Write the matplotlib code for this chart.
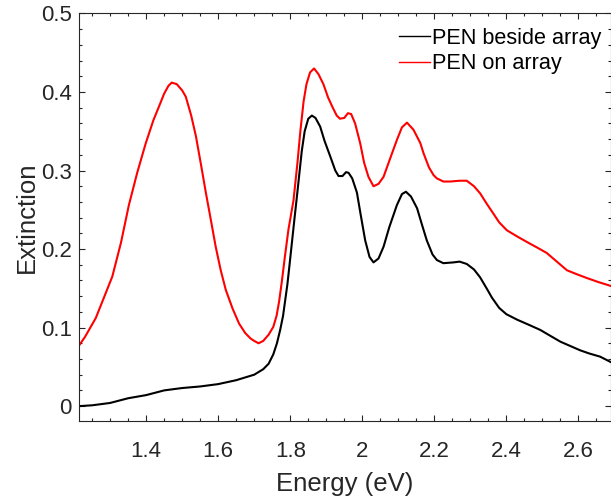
import matplotlib
matplotlib.use("Agg")
import matplotlib.pyplot as plt
from matplotlib.ticker import MultipleLocator, FuncFormatter

# ---- data ----
energy_beside = [1.215, 1.25, 1.30, 1.35, 1.40, 1.45, 1.50, 1.55, 1.60, 1.65, 1.70, 1.725,
                 1.74, 1.753, 1.763, 1.772, 1.780, 1.786, 1.792, 1.798, 1.805, 1.812, 1.818,
                 1.825, 1.832, 1.840, 1.850, 1.860, 1.870, 1.883, 1.895, 1.911, 1.925, 1.934,
                 1.945, 1.955, 1.962, 1.972, 1.985, 1.995, 2.008, 2.020, 2.031, 2.045, 2.059,
                 2.075, 2.096, 2.110, 2.121, 2.135, 2.152, 2.165, 2.179, 2.195, 2.207, 2.225,
                 2.253, 2.27, 2.29, 2.31, 2.327, 2.345, 2.36, 2.38, 2.40, 2.43, 2.46, 2.494,
                 2.52, 2.55, 2.58, 2.605, 2.63, 2.66, 2.69]
ext_beside = [0.000, 0.001, 0.004, 0.010, 0.014, 0.020, 0.023, 0.025, 0.028, 0.033, 0.040, 0.047,
              0.054, 0.066, 0.080, 0.097, 0.115, 0.135, 0.155, 0.180, 0.210, 0.240, 0.265,
              0.295, 0.325, 0.350, 0.366, 0.370, 0.367, 0.356, 0.338, 0.318, 0.300, 0.293,
              0.293, 0.298, 0.297, 0.290, 0.272, 0.245, 0.211, 0.190, 0.183, 0.188, 0.203,
              0.228, 0.256, 0.270, 0.273, 0.267, 0.252, 0.232, 0.211, 0.193, 0.186, 0.182,
              0.183, 0.184, 0.181, 0.174, 0.164, 0.150, 0.138, 0.125, 0.117, 0.110, 0.104, 0.097,
              0.090, 0.082, 0.076, 0.071, 0.067, 0.063, 0.056]

energy_on = [1.215, 1.23, 1.26, 1.28, 1.306, 1.33, 1.352, 1.375, 1.399, 1.42, 1.436, 1.45,
             1.462, 1.471, 1.485, 1.50, 1.51, 1.525, 1.538, 1.552, 1.566, 1.58, 1.593, 1.607,
             1.621, 1.64, 1.658, 1.675, 1.69, 1.70, 1.712, 1.725, 1.74, 1.753, 1.762, 1.769,
             1.777, 1.785, 1.795, 1.809, 1.820, 1.828, 1.837, 1.845, 1.855, 1.866, 1.878,
             1.892, 1.905, 1.918, 1.929, 1.938, 1.950, 1.960, 1.969, 1.980, 1.994, 2.005,
             2.017, 2.031, 2.045, 2.059, 2.077, 2.096, 2.110, 2.124, 2.142, 2.161, 2.170,
             2.185, 2.198, 2.207, 2.225, 2.244, 2.27, 2.29, 2.31, 2.327, 2.345, 2.364, 2.38,
             2.401, 2.43, 2.457, 2.485, 2.512, 2.54, 2.568, 2.595, 2.624, 2.655, 2.69]
ext_on = [0.078, 0.088, 0.112, 0.135, 0.165, 0.208, 0.256, 0.297, 0.335, 0.364, 0.382, 0.398,
          0.408, 0.412, 0.410, 0.402, 0.394, 0.370, 0.344, 0.308, 0.271, 0.236, 0.203, 0.173,
          0.148, 0.124, 0.105, 0.093, 0.086, 0.083, 0.080, 0.083, 0.091, 0.101, 0.115, 0.133,
          0.160, 0.190, 0.225, 0.262, 0.310, 0.350, 0.388, 0.410, 0.425, 0.430, 0.423,
          0.410, 0.393, 0.380, 0.370, 0.366, 0.367, 0.373, 0.372, 0.360, 0.335, 0.310,
          0.292, 0.280, 0.283, 0.292, 0.315, 0.339, 0.355, 0.361, 0.352, 0.335, 0.322,
          0.304, 0.294, 0.290, 0.286, 0.286, 0.287, 0.287, 0.280, 0.271, 0.258, 0.245, 0.234,
          0.224, 0.216, 0.209, 0.202, 0.195, 0.184, 0.173, 0.168, 0.163, 0.158, 0.153]

series_labels = ["PEN beside array", "PEN on array"]
x_ticks = [1.4, 1.6, 1.8, 2.0, 2.2, 2.4, 2.6]
y_ticks = [0, 0.1, 0.2, 0.3, 0.4, 0.5]

# ---- style ----
plt.rcParams['font.family'] = ['Liberation Sans', 'DejaVu Sans']
axcol = '#262626'

fig = plt.figure(figsize=(6.11, 4.98), dpi=100)
ax = fig.add_axes([0.1298, 0.1546, 0.8694, 0.8183])

ax.plot(energy_beside, ext_beside, color='black', lw=1.5, label=series_labels[0])
ax.plot(energy_on, ext_on, color='#ff0000', lw=1.5, label=series_labels[1])

ax.set_xlim(1.2144, 2.689)
ax.set_ylim(-0.019, 0.5)
ax.set_xticks(x_ticks)
ax.set_yticks(y_ticks)
ax.xaxis.set_minor_locator(MultipleLocator(0.05))
ax.yaxis.set_minor_locator(MultipleLocator(0.02))
fmt = FuncFormatter(lambda v, p: "%g" % round(v, 3))
ax.xaxis.set_major_formatter(fmt)
ax.yaxis.set_major_formatter(fmt)

ax.tick_params(which='both', direction='in', top=True, right=True, colors=axcol,
               width=0.8)
ax.tick_params(which='major', length=4.1)
ax.tick_params(which='minor', length=2.4)
ax.tick_params(axis='x', which='major', labelsize=16, pad=14.5)
ax.tick_params(axis='y', which='major', labelsize=16, pad=5.5)
for s in ax.spines.values():
    s.set_color(axcol)
    s.set_linewidth(0.8)

ax.set_xlabel("Energy (eV)", fontsize=18.5, color=axcol, labelpad=7)
ax.set_ylabel("Extinction", fontsize=18.5, color=axcol, labelpad=1)

leg = ax.legend(loc='upper right', frameon=False, fontsize=15.6, handlelength=1.4,
                handletextpad=0.12, labelspacing=0.22, borderaxespad=0.2,
                bbox_to_anchor=(1.008, 0.997))
for line in leg.get_lines():
    line.set_linewidth(1.0)
for t in leg.get_texts():
    t.set_color('black')

fig.savefig("out.png", dpi=100)
